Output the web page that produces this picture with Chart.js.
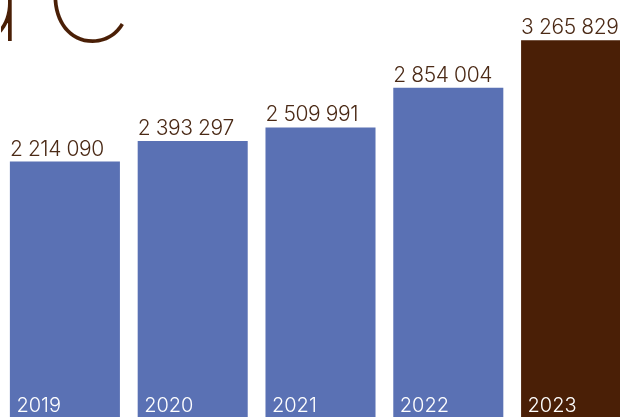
<!DOCTYPE html>
<html>
<head>
<meta charset="utf-8">
<script src="https://cdn.jsdelivr.net/npm/chart.js@4"></script>
<style>
  html, body { margin: 0; padding: 0; background: #fff; overflow: hidden; }
  #wrap { position: relative; width: 639px; height: 417px; margin-left: 1px; }
</style>
</head>
<body>
<div id="wrap"><canvas id="grafico"></canvas></div>
<script>
// Dados
const anos = ['2019', '2020', '2021', '2022', '2023'];
const valores = [2214090, 2393297, 2509991, 2854004, 3265829];
const rotulos = ['2 214 090', '2 393 297', '2 509 991', '2 854 004', '3 265 829'];
const titulo = 'ae';

const azul = '#5a71b4';
const marrom = '#4a1f06';
const coresBarras = anos.map((a, i) => i === anos.length - 1 ? marrom : azul);

// Plugin para desenhar rótulos e o título cortado
const rotulosPlugin = {
  id: 'rotulos',
  afterDatasetsDraw(chart) {
    const c = chart.ctx;
    const meta = chart.getDatasetMeta(0);
    c.save();
    c.textBaseline = 'alphabetic';
    c.textAlign = 'left';
    meta.data.forEach((bar, i) => {
      const esq = bar.x - bar.width / 2;
      c.font = '300 21px Inter';
      c.letterSpacing = '-0.4px';
      c.fillStyle = '#4b2a16';
      c.fillText(rotulos[i], esq, bar.y - 6);
      c.font = '300 20px Inter';
      c.letterSpacing = '0px';
      c.fillStyle = '#ffffff';
      c.fillText(anos[i], esq + 6.5, chart.chartArea.bottom - 5);
    });
    // título grande, cortado no topo (a haste do "a" perto de x=11, o "e" a partir de x=52)
    c.font = '100 165px Inter';
    c.letterSpacing = '0px';
    const ma = c.measureText(titulo[0]);
    const me = c.measureText(titulo[1]);
    const x0 = 11 - ma.actualBoundingBoxRight;
    const espaco = 52 - (x0 + ma.width - me.actualBoundingBoxLeft);
    c.letterSpacing = espaco + 'px';
    c.fillStyle = marrom;
    c.fillText(titulo, x0, 41);
    c.restore();
  }
};

const ctx = document.getElementById('grafico').getContext('2d');
new Chart(ctx, {
  type: 'bar',
  data: {
    labels: anos,
    datasets: [{
      data: valores,
      backgroundColor: coresBarras,
      borderWidth: 0,
      categoryPercentage: 1,
      barPercentage: 0.861
    }]
  },
  options: {
    responsive: true,
    maintainAspectRatio: false,
    animation: false,
    layout: { padding: 0 },
    plugins: {
      legend: { display: false },
      tooltip: { enabled: false }
    },
    scales: {
      x: { display: false },
      y: { display: false, min: 0, max: 3615000 }
    }
  },
  plugins: [rotulosPlugin]
});
</script>
</body>
</html>
